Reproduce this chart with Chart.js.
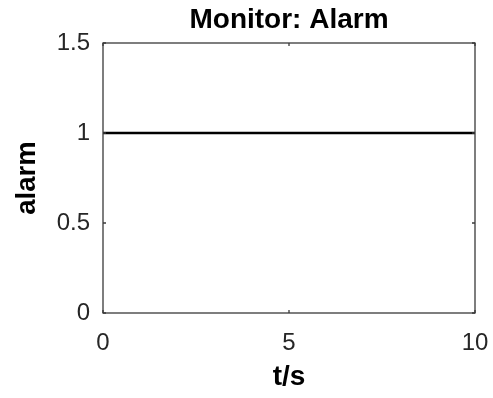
<!DOCTYPE html>
<html>
<head>
<meta charset="utf-8">
<script src="https://cdn.jsdelivr.net/npm/chart.js@4/dist/chart.umd.min.js"></script>
<style>
  html, body { margin: 0; padding: 0; background: #ffffff; }
  #wrap { width: 493px; height: 398px; }
</style>
</head>
<body>
<div id="wrap"><canvas id="c" width="493" height="398"></canvas></div>
<script>
// Alarm signal sampled over the run (seconds)
const timeS = [0, 1, 2, 3, 4, 5, 6, 7, 8, 9, 10];
const alarm = [1, 1, 1, 1, 1, 1, 1, 1, 1, 1, 1];

// Axis ticks
const xTicks = [0, 5, 10];
const yTicks = [0, 0.5, 1, 1.5];

const FONT = "'Liberation Sans', Arial, Helvetica, sans-serif";
const AXIS_COLOR = '#262626';

// Boxed axes with short inward tick marks on all four sides
const boxFrame = {
  id: 'boxFrame',
  afterDatasetsDraw(chart) {
    const { ctx, chartArea: a, scales } = chart;
    const len = 3;
    ctx.save();
    ctx.strokeStyle = '#3a3a3a';
    ctx.lineWidth = 1.3;
    ctx.beginPath();
    xTicks.forEach(v => {
      const px = scales.x.getPixelForValue(v);
      ctx.moveTo(px, a.bottom); ctx.lineTo(px, a.bottom - len);
      ctx.moveTo(px, a.top); ctx.lineTo(px, a.top + len);
    });
    yTicks.forEach(v => {
      const py = scales.y.getPixelForValue(v);
      ctx.moveTo(a.left, py); ctx.lineTo(a.left + len, py);
      ctx.moveTo(a.right, py); ctx.lineTo(a.right - len, py);
    });
    ctx.stroke();
    ctx.strokeRect(a.left, a.top, a.right - a.left, a.bottom - a.top);
    ctx.restore();
  }
};

new Chart(document.getElementById('c'), {
  type: 'line',
  data: {
    datasets: [{
      data: timeS.map((t, i) => ({ x: t, y: alarm[i] })),
      borderColor: '#000000',
      borderWidth: 2.5,
      pointRadius: 0,
      fill: false,
      tension: 0
    }]
  },
  options: {
    responsive: false,
    animation: false,
    layout: { padding: { left: 0, right: 18, top: 0, bottom: 0 } },
    plugins: {
      legend: { display: false },
      tooltip: { enabled: false },
      title: {
        display: true,
        fullSize: false,
        text: 'Monitor: Alarm',
        color: '#000000',
        font: { family: FONT, size: 28, weight: 'bold' },
        padding: { top: 3.5, bottom: 5.9 }
      }
    },
    scales: {
      x: {
        type: 'linear',
        min: 0,
        max: 10,
        afterBuildTicks: s => { s.ticks = xTicks.map(v => ({ value: v })); },
        afterFit: s => { s.height = 85; s.paddingLeft = 0; s.paddingRight = 0; },
        grid: { display: false, drawTicks: false },
        border: { display: false },
        ticks: {
          color: AXIS_COLOR,
          font: { family: FONT, size: 24 },
          padding: 15.6,
          maxRotation: 0,
          autoSkip: false,
          callback: v => String(v)
        },
        title: {
          display: true,
          text: 't/s',
          color: '#000000',
          font: { family: FONT, size: 28, weight: 'bold' },
          padding: { top: 0, bottom: 3.9 }
        }
      },
      y: {
        type: 'linear',
        min: 0,
        max: 1.5,
        afterBuildTicks: s => { s.ticks = yTicks.map(v => ({ value: v })); },
        afterFit: s => { s.width = 103; s.paddingTop = 0; s.paddingBottom = 0; },
        grid: { display: false, drawTicks: false },
        border: { display: false },
        ticks: {
          color: AXIS_COLOR,
          font: { family: FONT, size: 24 },
          padding: 13,
          autoSkip: false,
          callback: v => String(v)
        },
        title: {
          display: true,
          text: 'alarm',
          color: '#000000',
          font: { family: FONT, size: 27.5, weight: 'bold' },
          padding: { top: 10.5, bottom: 0 }
        }
      }
    }
  },
  plugins: [boxFrame]
});
</script>
</body>
</html>
